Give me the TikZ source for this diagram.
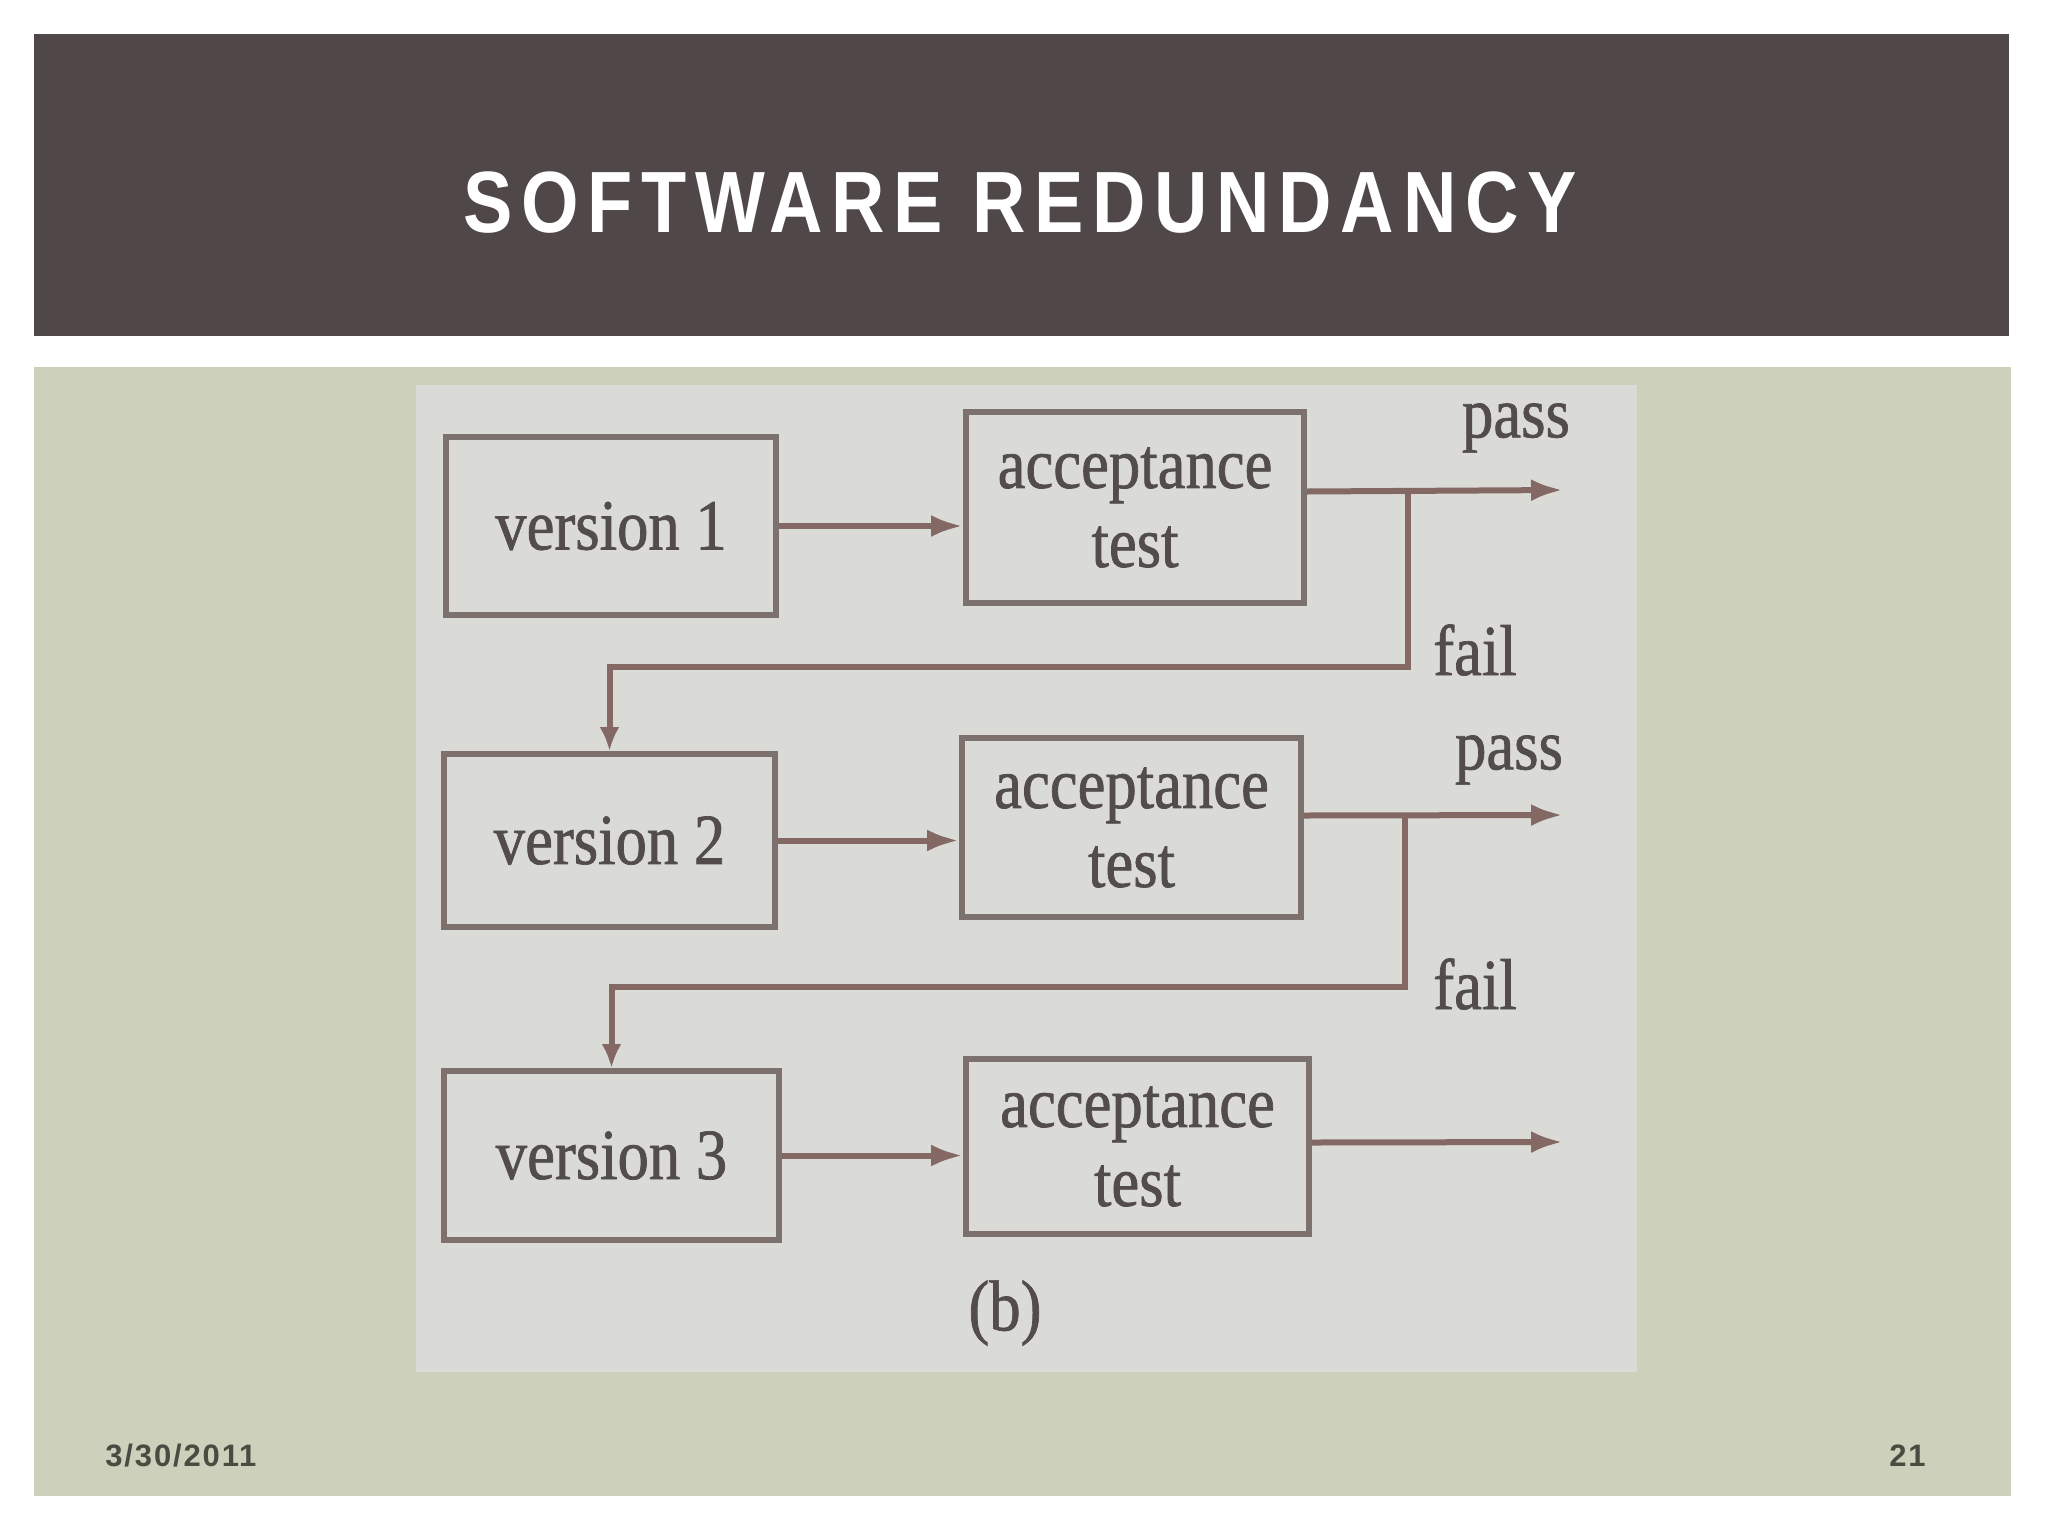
\documentclass[tikz,border=0pt]{standalone}
\usepackage{fontspec}
\setmainfont{Liberation Serif}
\newfontfamily\titlefont[FakeStretch=0.85,LetterSpace=10]{Liberation Sans Bold}
\newfontfamily\footfont[LetterSpace=6]{Liberation Sans Bold}
\newfontfamily\photofont[FakeStretch=0.87,FakeBold=1]{Liberation Serif}
\usetikzlibrary{arrows.meta}
\definecolor{headbg}{RGB}{80,72,72}
\definecolor{slidebg}{RGB}{205,208,186}
\definecolor{photobg}{RGB}{218,219,214}
\definecolor{boxline}{RGB}{125,113,110}
\definecolor{arrline}{RGB}{132,104,100}
\definecolor{inktext}{RGB}{82,77,75}
\definecolor{foottext}{RGB}{75,75,66}
\begin{document}
\begin{tikzpicture}[x=0.5pt,y=-0.5pt,
  blockbox/.style={draw=boxline,line width=3pt,fill=photobg,text=inktext,
    font=\photofont\fontsize{36}{39.5}\selectfont,align=center,inner sep=0pt},
  flow/.style={draw=arrline,line width=3pt,-{Latex[length=16pt,width=11pt]}},
  downflow/.style={draw=arrline,line width=3pt,-{Latex[length=12pt,width=10pt]}},
  lbl/.style={text=inktext,font=\photofont\fontsize{36}{39.5}\selectfont,inner sep=0pt}]
\useasboundingbox (0,0) rectangle (2048,1536);
\fill[white] (0,0) rectangle (2048,1536);
% header band
\fill[headbg] (34,34) rectangle (2009,336);
\node[anchor=base,text=white,inner sep=0pt,font=\titlefont\fontsize{43.5}{48}\selectfont] (title) at (1020,232) {SOFTWARE REDUNDANCY};
% content area
\fill[slidebg] (34,367) rectangle (2011,1496);
% photo
\fill[photobg] (416,385) rectangle (1637,1372);
% boxes
\node[blockbox,minimum width=165pt,minimum height=89pt] (v1) at (611,526) {version 1};
\node[blockbox,minimum width=169pt,minimum height=95.5pt] (a1) at (1135,507.5) {acceptance\\test};
\node[blockbox,minimum width=165.5pt,minimum height=86.5pt] (v2) at (609.5,840.5) {version 2};
\node[blockbox,minimum width=169.5pt,minimum height=89.5pt] (a2) at (1131.5,827.5) {acceptance\\test};
\node[blockbox,minimum width=167.5pt,minimum height=84.5pt] (v3) at (611.5,1155.5) {version 3};
\node[blockbox,minimum width=171.5pt,minimum height=87.5pt] (a3) at (1137.5,1146.5) {acceptance\\test};
% coordinates
\coordinate (p1) at (1563,490);
\coordinate (j1) at (1408,491);
\coordinate (k1) at (1408,667);
\coordinate (p2) at (1563,815);
\coordinate (j2) at (1405,815.5);
\coordinate (k2) at (1405,987);
\coordinate (p3) at (1563,1142);
% connectors
\draw[flow] (v1.east) -- (v1.east -| a1.west);
\draw[flow] ([yshift=8pt]a1.east) -- (p1);
\draw[downflow] (j1) -- (k1) -| (v2.north);
\draw[flow] (v2.east) -- (v2.east -| a2.west);
\draw[flow] ([yshift=6pt]a2.east) -- (p2);
\draw[downflow] (j2) -- (k2) -| (v3.north);
\draw[flow] (v3.east) -- (v3.east -| a3.west);
\draw[flow] ([yshift=2pt]a3.east) -- (p3);
% labels
\node[lbl] (pass1) at (1516,428) {pass};
\node[lbl] (fail1) at (1475,650) {fail};
\node[lbl] (pass2) at (1509,760) {pass};
\node[lbl] (fail2) at (1475,984) {fail};
\node[lbl] (cap) at (1005,1313) {(b)};
% footer
\node[anchor=base west,inner sep=0pt,text=foottext,font=\footfont\fontsize{15.5}{18}\selectfont] (date) at (105,1466) {3/30/2011};
\node[anchor=base east,inner sep=0pt,text=foottext,font=\footfont\fontsize{15.5}{18}\selectfont] (pnum) at (1926,1466) {21};
\end{tikzpicture}
\end{document}
